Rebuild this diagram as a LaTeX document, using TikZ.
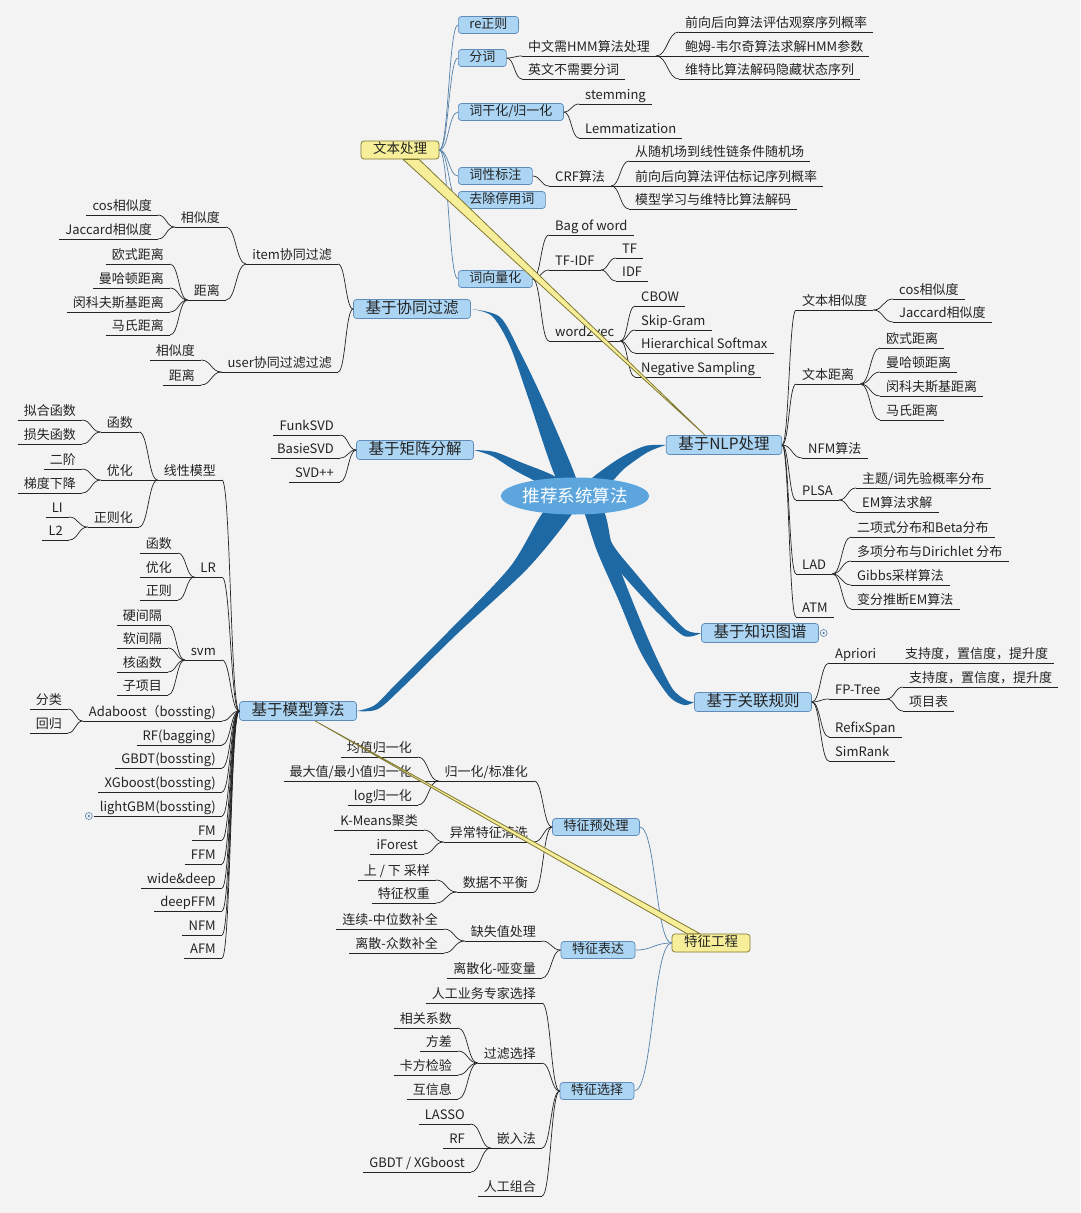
\documentclass[tikz,border=0pt]{standalone}
\usepackage{fontspec}
\setmainfont{Noto Sans CJK SC}
\usepackage{tikz}
\usetikzlibrary{positioning, calc, shapes.geometric}
\pgfdeclarelayer{back}
\pgfsetlayers{back,main}

\definecolor{bgcol}{RGB}{243,243,244}
\definecolor{txt}{RGB}{35,35,35}
\definecolor{boxfill}{RGB}{172,213,244}
\definecolor{boxline}{RGB}{95,140,185}
\definecolor{yfill}{RGB}{246,238,152}
\definecolor{yline}{RGB}{128,120,50}
\definecolor{trunkblue}{RGB}{30,104,164}
\definecolor{hubfill}{RGB}{92,166,221}
\definecolor{blink}{RGB}{84,128,168}

\newcommand{\fleaf}{\fontsize{13}{15}\selectfont}
\newcommand{\fsub}{\fontsize{13}{15}\selectfont}
\newcommand{\fmain}{\fontsize{15.5}{18}\selectfont}
\newcommand{\fhub}{\fontsize{17.5}{20}\selectfont}

\begin{document}
\begin{tikzpicture}[
    x=1pt, y=-1pt,
    node distance=1pt,
    leaf/.style={font=\fleaf, text=txt, inner xsep=6pt, inner ysep=1.5pt,
        text height=10pt, text depth=2.5pt,
        append after command={(\tikzlastnode.south west) edge[twig] (\tikzlastnode.south east)}},
    rleaf/.style={leaf, anchor=south west},
    lleaf/.style={leaf, anchor=south east},
    subbox/.style={draw=boxline, fill=boxfill, rounded corners=3pt, font=\fsub, text=txt,
        inner xsep=11pt, inner ysep=1pt, text height=10pt, text depth=2.5pt,
        minimum height=17pt, line width=0.7pt},
    topic/.style={subbox, font=\fmain, inner xsep=12pt, text height=12pt, text depth=3pt, minimum height=19pt},
    floater/.style={subbox, draw=yline, fill=yfill, font=\fontsize{13.5}{16}\selectfont,
        inner xsep=12pt, minimum height=18pt},
    hub/.style={ellipse, fill=hubfill, text=white, font=\fhub, minimum width=136pt,
        minimum height=37pt, inner sep=0pt},
    twig/.style={draw=txt, line width=0.7pt},
    bline/.style={draw=blink, line width=0.7pt},
    trunk/.style={fill=trunkblue},
    ylink/.style={fill=yfill, draw=yline, line width=0.8pt, line join=round},
    fold/.style={circle, draw=blink, fill=bgcol, minimum size=7pt, inner sep=0pt, line width=0.6pt,
        path picture={\fill[blink] (path picture bounding box.center) circle (1.2pt);}},
    elbow/.style={to path={let \p1=(\tikztostart), \p2=(\tikztotarget) in
        .. controls ({(\x1+\x2)/2},\y1) and ({(\x1+\x2)/2},\y2) .. (\p2)}}
]
\useasboundingbox (0,0) rectangle (1080,1213);

% 中心主题
\node[hub] (hub) at (575,496) {推荐系统算法};

% 分支主题
\node[topic] (cf)  at (412,309) {基于协同过滤};
\node[topic] (mf)  at (415,450) {基于矩阵分解};
\node[topic] (mb)  at (298,711) {基于模型算法};
\node[topic] (nlp) at (724,445) {基于NLP处理};
\node[topic] (kg)  at (760,633) {基于知识图谱};
\node[topic] (ar)  at (753,702) {基于关联规则};

% 自由主题
\node[floater] (wb) at (400,150) {文本处理};
\node[floater] (fe) at (711,943) {特征工程};

% 文本处理
\node[subbox, anchor=west] (wre) at (458,25)  {re正则};
\node[subbox, anchor=west] (wfc) at (458,58)  {分词};
\node[subbox, anchor=west] (wgy) at (458,112) {词干化/归一化};
\node[subbox, anchor=west] (wcx) at (458,176) {词性标注};
\node[subbox, anchor=west] (wty) at (458,200) {去除停用词};
\node[subbox, anchor=west] (wxl) at (458,279) {词向量化};

\node[rleaf] (zw)   at (522,56)  {中文需HMM算法处理};
\node[rleaf] (yw)   at (522,79)  {英文不需要分词};
\node[rleaf] (hmm1) at (679,32)  {前向后向算法评估观察序列概率};
\node[rleaf] (hmm2) at (679,56)  {鲍姆-韦尔奇算法求解HMM参数};
\node[rleaf] (hmm3) at (679,79)  {维特比算法解码隐藏状态序列};
\node[rleaf] (stem) at (579,104) {stemming};
\node[rleaf] (lemm) at (579,138) {Lemmatization};
\node[rleaf] (crf)  at (549,186) {CRF算法};
\node[rleaf] (crf1) at (629,161) {从随机场到线性链条件随机场};
\node[rleaf] (crf2) at (629,186) {前向后向算法评估标记序列概率};
\node[rleaf] (crf3) at (629,209) {模型学习与维特比算法解码};
\node[rleaf] (bow)  at (549,235) {Bag of word};
\node[rleaf] (tfidf) at (549,270) {TF-IDF};
\node[rleaf] (tf)   at (616,258) {TF};
\node[rleaf] (idf)  at (616,281) {IDF};
\node[rleaf] (w2v)  at (549,341) {word2vec};
\node[rleaf] (cbow) at (635,306) {CBOW};
\node[rleaf] (skip) at (635,330) {Skip-Gram};
\node[rleaf] (hsm)  at (635,353) {Hierarchical Softmax};
\node[rleaf] (neg)  at (635,377) {Negative Sampling};

% 基于协同过滤
\node[lleaf] (item) at (338,264) {item协同过滤};
\node[lleaf] (user) at (338,372) {user协同过滤过滤};
\node[lleaf] (ixs)  at (226,227) {相似度};
\node[lleaf] (ijl)  at (226,300) {距离};
\node[lleaf] (icos) at (158,215) {cos相似度};
\node[lleaf] (ijac) at (158,239) {Jaccard相似度};
\node[lleaf] (ios)  at (170,264) {欧式距离};
\node[lleaf] (imh)  at (170,288) {曼哈顿距离};
\node[lleaf] (imk)  at (170,312) {闵科夫斯基距离};
\node[lleaf] (ims)  at (170,335) {马氏距离};
\node[lleaf] (uxs)  at (201,360) {相似度};
\node[lleaf] (ujl)  at (201,385) {距离};

% 基于矩阵分解
\node[lleaf] (funk)  at (340,435) {FunkSVD};
\node[lleaf] (basie) at (340,458) {BasieSVD};
\node[lleaf] (svdpp) at (340,482) {SVD++};

% 基于模型算法
\node[lleaf] (lin)  at (222,480) {线性模型};
\node[lleaf] (lhs)  at (139,432) {函数};
\node[lleaf] (lyh)  at (139,480) {优化};
\node[lleaf] (lzz)  at (139,527) {正则化};
\node[lleaf] (lhs1) at (82,420)  {拟合函数};
\node[lleaf] (lhs2) at (82,444)  {损失函数};
\node[lleaf] (lyh1) at (82,469)  {二阶};
\node[lleaf] (lyh2) at (82,493)  {梯度下降};
\node[lleaf] (lzz1) at (69,517)  {LI};
\node[lleaf] (lzz2) at (69,540)  {L2};
\node[lleaf] (lr)   at (222,577) {LR};
\node[lleaf] (lr1)  at (178,553) {函数};
\node[lleaf] (lr2)  at (178,577) {优化};
\node[lleaf] (lr3)  at (178,600) {正则};
\node[lleaf] (svm)  at (222,660) {svm};
\node[lleaf] (svm1) at (168,625) {硬间隔};
\node[lleaf] (svm2) at (168,648) {软间隔};
\node[lleaf] (svm3) at (168,672) {核函数};
\node[lleaf] (svm4) at (168,695) {子项目};
\node[lleaf] (ada)  at (222,721) {Adaboost（bossting)};
\node[lleaf] (ada1) at (68,709)  {分类};
\node[lleaf] (ada2) at (68,733)  {回归};
\node[lleaf] (rf)   at (222,745) {RF(bagging)};
\node[lleaf] (gbdt) at (222,768) {GBDT(bossting)};
\node[lleaf] (xgb)  at (222,792) {XGboost(bossting)};
\node[lleaf] (lgbm) at (222,816) {lightGBM(bossting)};
\node[lleaf] (fm)   at (222,840) {FM};
\node[lleaf] (ffm)  at (222,864) {FFM};
\node[lleaf] (wd)   at (222,888) {wide\&deep};
\node[lleaf] (dffm) at (222,911) {deepFFM};
\node[lleaf] (nfm)  at (222,935) {NFM};
\node[lleaf] (afm)  at (222,958) {AFM};
\node[fold, left=of lgbm.south west] (lgf) {};

% 基于NLP处理
\node[rleaf] (nxs)  at (796,310) {文本相似度};
\node[rleaf] (nxs1) at (893,299) {cos相似度};
\node[rleaf] (nxs2) at (893,322) {Jaccard相似度};
\node[rleaf] (njl)  at (796,384) {文本距离};
\node[rleaf] (njl1) at (880,348) {欧式距离};
\node[rleaf] (njl2) at (880,372) {曼哈顿距离};
\node[rleaf] (njl3) at (880,396) {闵科夫斯基距离};
\node[rleaf] (njl4) at (880,420) {马氏距离};
\node[rleaf] (nnfm) at (802,458) {NFM算法};
\node[rleaf] (plsa) at (796,500) {PLSA};
\node[rleaf] (plsa1) at (856,488) {主题/词先验概率分布};
\node[rleaf] (plsa2) at (856,512) {EM算法求解};
\node[rleaf] (lad)  at (796,574) {LAD};
\node[rleaf] (lad1) at (851,537) {二项式分布和Beta分布};
\node[rleaf] (lad2) at (851,561) {多项分布与Dirichlet 分布};
\node[rleaf] (lad3) at (851,585) {Gibbs采样算法};
\node[rleaf] (lad4) at (851,609) {变分推断EM算法};
\node[rleaf] (atm)  at (796,617) {ATM};

% 基于知识图谱 / 关联规则
\node[fold, right=of kg] (kgf) {};
\node[rleaf] (apr)  at (829,663) {Apriori};
\node[rleaf] (apr1) at (899,663) {支持度，置信度，提升度};
\node[rleaf] (fpt)  at (829,699) {FP-Tree};
\node[rleaf] (fpt1) at (903,687) {支持度，置信度，提升度};
\node[rleaf] (fpt2) at (903,711) {项目表};
\node[rleaf] (rfx)  at (829,737) {RefixSpan};
\node[rleaf] (sim)  at (829,761) {SimRank};

% 特征工程
\node[subbox] (fpre) at (596,827)  {特征预处理};
\node[subbox] (fexp) at (598,950)  {特征表达};
\node[subbox] (fsel) at (597,1091) {特征选择};

\node[lleaf] (gyh)  at (534,781) {归一化/标准化};
\node[lleaf] (gyh1) at (418,757) {均值归一化};
\node[lleaf] (gyh2) at (418,781) {最大值/最小值归一化};
\node[lleaf] (gyh3) at (418,805) {log归一化};
\node[lleaf] (ycq)  at (534,842) {异常特征清洗};
\node[lleaf] (ycq1) at (424,830) {K-Means聚类};
\node[lleaf] (ycq2) at (424,854) {iForest};
\node[lleaf] (bph)  at (534,892) {数据不平衡};
\node[lleaf] (bph1) at (436,880) {上 / 下 采样};
\node[lleaf] (bph2) at (436,903) {特征权重};
\node[lleaf] (qsz)  at (542,941) {缺失值处理};
\node[lleaf] (qsz1) at (444,929) {连续-中位数补全};
\node[lleaf] (qsz2) at (444,953) {离散-众数补全};
\node[lleaf] (lsh)  at (542,978) {离散化-哑变量};
\node[lleaf] (rgzj) at (542,1003) {人工业务专家选择};
\node[lleaf] (glxz) at (542,1063) {过滤选择};
\node[lleaf] (glxz1) at (458,1028) {相关系数};
\node[lleaf] (glxz2) at (458,1051) {方差};
\node[lleaf] (glxz3) at (458,1075) {卡方检验};
\node[lleaf] (glxz4) at (458,1099) {互信息};
\node[lleaf] (qrf)  at (542,1148) {嵌入法};
\node[lleaf] (qrf1) at (471,1124) {LASSO};
\node[lleaf] (qrf2) at (471,1148) {RF};
\node[lleaf] (qrf3) at (471,1172) {GBDT / XGboost};
\node[lleaf] (rgzh) at (542,1196) {人工组合};

% 中心到分支的粗线
\begin{pgfonlayer}{back}
\fill[bgcol] (0,0) rectangle (1080,1213);
\fill[trunk] plot[smooth] coordinates {(hub.center) (556,478) (529,400) (510,346) (492,316) (cf.east)}
    -- plot[smooth] coordinates {(cf.east) (500,317) (520,352) (543,400) (576,478) (hub.center)} -- cycle;
\fill[trunk] plot[smooth] coordinates {(hub.center) (556,477) (520,462) (495,452) (mf.east)}
    -- plot[smooth] coordinates {(mf.east) (492,456) (516,471) (550,488) (hub.center)} -- cycle;
\fill[trunk] plot[smooth] coordinates {(hub.center) (592,478) (620,458) (645,446) (nlp.west)}
    -- plot[smooth] coordinates {(nlp.west) (648,452) (625,468) (606,486) (hub.center)} -- cycle;
\fill[trunk] plot[smooth] coordinates {(hub.center) (545,510) (510,567) (447,633) (397,683) (375,705) (mb.east)}
    -- plot[smooth] coordinates {(mb.east) (378,709) (404,686) (457,634) (528,568) (574,511) (hub.center)} -- cycle;
\fill[trunk] plot[smooth] coordinates {(hub.center) (597,510) (613,545) (637,575) (664,607) (686,630) (kg.west)}
    -- plot[smooth] coordinates {(kg.west) (684,636) (658,613) (628,581) (604,551) (585,512) (hub.center)} -- cycle;
\fill[trunk] plot[smooth] coordinates {(hub.center) (603,510) (613,550) (632,600) (653,650) (672,688) (686,700) (ar.west)}
    -- plot[smooth] coordinates {(ar.west) (684,705) (668,695) (641,653) (619,601) (597,551) (584,512) (hub.center)} -- cycle;
\end{pgfonlayer}

% 文本处理连线
\path[bline] (wb.east) edge[elbow] (wre.west) edge[elbow] (wfc.west) edge[elbow] (wgy.west)
    edge[elbow] (wcx.west) edge[elbow] (wty.west) edge[elbow] (wxl.west);
\path[twig] (wfc.east) edge[elbow] (zw.south west) edge[elbow] (yw.south west);
\path[twig] (zw.south east) edge[elbow] (hmm1.south west) edge[elbow] (hmm2.south west) edge[elbow] (hmm3.south west);
\path[twig] (wgy.east) edge[elbow] (stem.south west) edge[elbow] (lemm.south west);
\path[twig] (wcx.east) edge[elbow] (crf.south west);
\path[twig] (crf.south east) edge[elbow] (crf1.south west) edge[elbow] (crf2.south west) edge[elbow] (crf3.south west);
\path[twig] (wxl.east) edge[elbow] (bow.south west) edge[elbow] (tfidf.south west) edge[elbow] (w2v.south west);
\path[twig] (tfidf.south east) edge[elbow] (tf.south west) edge[elbow] (idf.south west);
\path[twig] (w2v.south east) edge[elbow] (cbow.south west) edge[elbow] (skip.south west)
    edge[elbow] (hsm.south west) edge[elbow] (neg.south west);

% 协同过滤连线
\path[twig] (cf.west) edge[elbow] (item.south east) edge[elbow] (user.south east);
\path[twig] (item.south west) edge[elbow] (ixs.south east) edge[elbow] (ijl.south east);
\path[twig] (ixs.south west) edge[elbow] (icos.south east) edge[elbow] (ijac.south east);
\path[twig] (ijl.south west) edge[elbow] (ios.south east) edge[elbow] (imh.south east)
    edge[elbow] (imk.south east) edge[elbow] (ims.south east);
\path[twig] (user.south west) edge[elbow] (uxs.south east) edge[elbow] (ujl.south east);

% 矩阵分解连线
\path[twig] (mf.west) edge[elbow] (funk.south east) edge[elbow] (basie.south east) edge[elbow] (svdpp.south east);

% 模型算法连线
\path[twig] (mb.west) edge[elbow] (lin.south east) edge[elbow] (lr.south east) edge[elbow] (svm.south east)
    edge[elbow] (ada.south east) edge[elbow] (rf.south east) edge[elbow] (gbdt.south east)
    edge[elbow] (xgb.south east) edge[elbow] (lgbm.south east) edge[elbow] (fm.south east)
    edge[elbow] (ffm.south east) edge[elbow] (wd.south east) edge[elbow] (dffm.south east)
    edge[elbow] (nfm.south east) edge[elbow] (afm.south east);
\path[twig] (lin.south west) edge[elbow] (lhs.south east) edge[elbow] (lyh.south east) edge[elbow] (lzz.south east);
\path[twig] (lhs.south west) edge[elbow] (lhs1.south east) edge[elbow] (lhs2.south east);
\path[twig] (lyh.south west) edge[elbow] (lyh1.south east) edge[elbow] (lyh2.south east);
\path[twig] (lzz.south west) edge[elbow] (lzz1.south east) edge[elbow] (lzz2.south east);
\path[twig] (lr.south west) edge[elbow] (lr1.south east) edge[elbow] (lr2.south east) edge[elbow] (lr3.south east);
\path[twig] (svm.south west) edge[elbow] (svm1.south east) edge[elbow] (svm2.south east)
    edge[elbow] (svm3.south east) edge[elbow] (svm4.south east);
\path[twig] (ada.south west) edge[elbow] (ada1.south east) edge[elbow] (ada2.south east);

% NLP连线
\path[twig] (nlp.east) edge[elbow] (nxs.south west) edge[elbow] (njl.south west) edge[elbow] (nnfm.south west)
    edge[elbow] (plsa.south west) edge[elbow] (lad.south west) edge[elbow] (atm.south west);
\path[twig] (nxs.south east) edge[elbow] (nxs1.south west) edge[elbow] (nxs2.south west);
\path[twig] (njl.south east) edge[elbow] (njl1.south west) edge[elbow] (njl2.south west)
    edge[elbow] (njl3.south west) edge[elbow] (njl4.south west);
\path[twig] (plsa.south east) edge[elbow] (plsa1.south west) edge[elbow] (plsa2.south west);
\path[twig] (lad.south east) edge[elbow] (lad1.south west) edge[elbow] (lad2.south west)
    edge[elbow] (lad3.south west) edge[elbow] (lad4.south west);

% 关联规则连线
\path[twig] (ar.east) edge[elbow] (apr.south west) edge[elbow] (fpt.south west)
    edge[elbow] (rfx.south west) edge[elbow] (sim.south west);
\path[twig] (apr.south east) edge[elbow] (apr1.south west);
\path[twig] (fpt.south east) edge[elbow] (fpt1.south west) edge[elbow] (fpt2.south west);

% 特征工程连线
\path[bline] (fe.west) edge[elbow] (fpre.east) edge[elbow] (fexp.east) edge[elbow] (fsel.east);
\path[twig] (fpre.west) edge[elbow] (gyh.south east) edge[elbow] (ycq.south east) edge[elbow] (bph.south east);
\path[twig] (gyh.south west) edge[elbow] (gyh1.south east) edge[elbow] (gyh2.south east) edge[elbow] (gyh3.south east);
\path[twig] (ycq.south west) edge[elbow] (ycq1.south east) edge[elbow] (ycq2.south east);
\path[twig] (bph.south west) edge[elbow] (bph1.south east) edge[elbow] (bph2.south east);
\path[twig] (fexp.west) edge[elbow] (qsz.south east) edge[elbow] (lsh.south east);
\path[twig] (qsz.south west) edge[elbow] (qsz1.south east) edge[elbow] (qsz2.south east);
\path[twig] (fsel.west) edge[elbow] (rgzj.south east) edge[elbow] (glxz.south east)
    edge[elbow] (qrf.south east) edge[elbow] (rgzh.south east);
\path[twig] (glxz.south west) edge[elbow] (glxz1.south east) edge[elbow] (glxz2.south east)
    edge[elbow] (glxz3.south east) edge[elbow] (glxz4.south east);
\path[twig] (qrf.south west) edge[elbow] (qrf1.south east) edge[elbow] (qrf2.south east) edge[elbow] (qrf3.south east);

% 联系线
\draw[ylink] ($(wb.south)+(3,0)$) -- ($(nlp.north)+(-19,0)$) -- ($(wb.south)+(19,0)$) -- cycle;
\draw[ylink] ($(mb.south)+(17,0)$) -- ($(fe.north)+(-24,0)$) -- ($(fe.north)+(-11,0)$) -- cycle;

\end{tikzpicture}
\end{document}
